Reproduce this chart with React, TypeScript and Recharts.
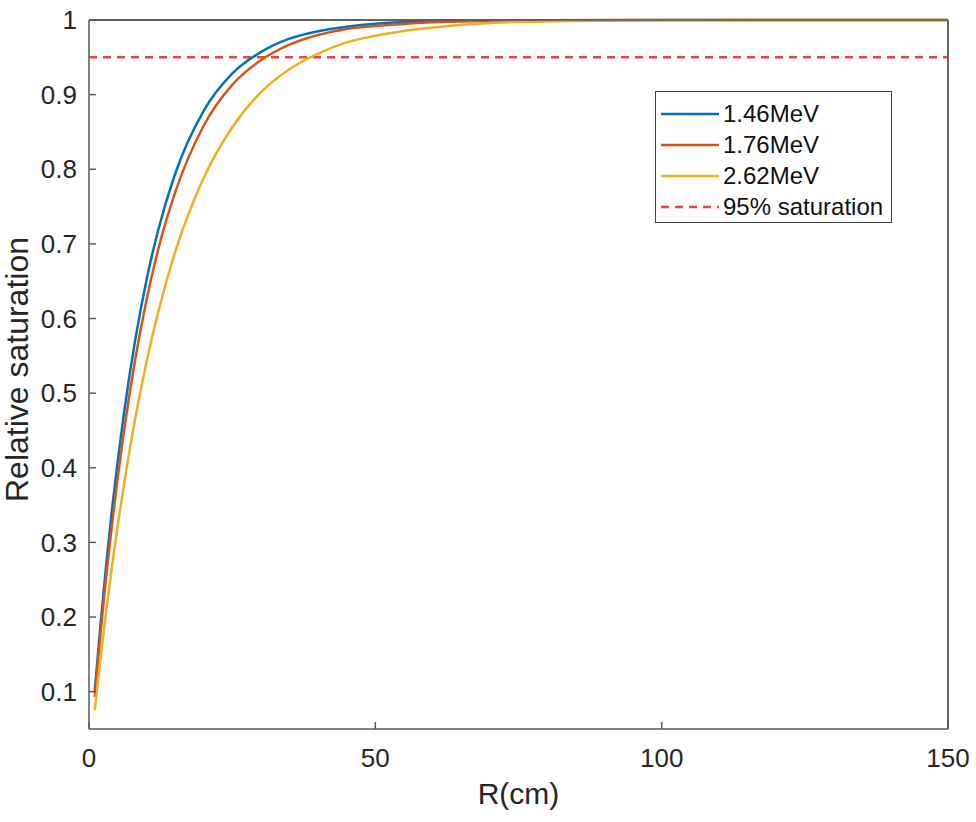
import React from 'react';
import { LineChart, Line, XAxis, YAxis, ReferenceLine, Legend } from 'recharts';

const rValues = [1, 2, 3, 4, 5, 6, 8, 10, 12, 15, 20, 25, 30, 35, 40, 45, 50, 60, 70, 80, 100, 120, 150];
const mev146 = [0.100, 0.189, 0.270, 0.343, 0.408, 0.467, 0.568, 0.650, 0.716, 0.793, 0.878, 0.928, 0.957, 0.975, 0.985, 0.991, 0.995, 0.998, 0.9994, 0.9998, 1.0, 1.0, 1.0];
const mev176 = [0.093, 0.177, 0.254, 0.323, 0.386, 0.443, 0.542, 0.623, 0.690, 0.768, 0.858, 0.913, 0.946, 0.967, 0.980, 0.988, 0.992, 0.997, 0.9989, 0.9996, 1.0, 1.0, 1.0];
const mev262 = [0.075, 0.144, 0.208, 0.267, 0.322, 0.372, 0.463, 0.540, 0.606, 0.688, 0.788, 0.856, 0.903, 0.934, 0.955, 0.970, 0.979, 0.990, 0.996, 0.998, 0.9996, 1.0, 1.0];

const xTicks = [0, 50, 100, 150];
const yTicks = [0.1, 0.2, 0.3, 0.4, 0.5, 0.6, 0.7, 0.8, 0.9, 1];
const saturationLevel = 0.95;

const seriesKeys = ['a', 'b', 'c'];
const seriesNames = ['1.46MeV', '1.76MeV', '2.62MeV'];
const seriesColors = ['#0072BD', '#D95319', '#EDB120'];
const refName = '95% saturation';
const refColor = '#F0404C';

const data = rValues.map((r, i) => ({ r, a: mev146[i], b: mev176[i], c: mev262[i] }));

const FONT = '"Liberation Sans", Arial, Helvetica, sans-serif';
const AXIS = '#595959';
const TEXT = '#262626';

const fmtY = (v: number) => (Math.abs(v - 1) < 1e-9 ? '1' : v.toFixed(1));

const LegendBox = () => (
  <div
    style={{
      width: 237,
      height: 132,
      boxSizing: 'border-box',
      border: '1.5px solid #444',
      background: '#fff',
      paddingTop: 6,
      fontFamily: FONT,
      fontSize: 24,
      color: '#111',
    }}
  >
    {seriesNames.map((n, i) => (
      <div key={n} style={{ height: 31, display: 'flex', alignItems: 'center' }}>
        <svg width={63} height={6} style={{ flex: 'none' }}>
          <line x1={5} x2={63} y1={3} y2={3} stroke={seriesColors[i]} strokeWidth={2.5} />
        </svg>
        <span style={{ marginLeft: 4, lineHeight: '31px', whiteSpace: 'nowrap' }}>{n}</span>
      </div>
    ))}
    <div style={{ height: 31, display: 'flex', alignItems: 'center' }}>
      <svg width={63} height={6} style={{ flex: 'none' }}>
        <line x1={5} x2={63} y1={3} y2={3} stroke={refColor} strokeWidth={2.5} strokeDasharray="8 6" />
      </svg>
      <span style={{ marginLeft: 4, lineHeight: '31px', whiteSpace: 'nowrap' }}>{refName}</span>
    </div>
  </div>
);

const XLabel = (props: any) => {
  const vb = props.viewBox || { x: 0, y: 0, width: 0, height: 0 };
  return (
    <text
      x={vb.x + vb.width / 2}
      y={vb.y + 75}
      textAnchor="middle"
      fontFamily={FONT}
      fontSize={30}
      fill={TEXT}
    >
      R(cm)
    </text>
  );
};

const YLabel = (props: any) => {
  const vb = props.viewBox || { x: 0, y: 0, width: 0, height: 0 };
  const cx = vb.x + 28;
  const cy = vb.y + vb.height / 2 - 5;
  return (
    <text
      x={cx}
      y={cy}
      transform={`rotate(-90 ${cx} ${cy})`}
      textAnchor="middle"
      fontFamily={FONT}
      fontSize={32}
      fill={TEXT}
    >
      Relative saturation
    </text>
  );
};

export default function App() {
  return (
    <div style={{ position: 'absolute', left: 0, top: 0, width: 976, height: 822, background: '#fff' }}>
      <LineChart
        width={976}
        height={822}
        data={data}
        margin={{ top: 19, right: 27, bottom: 13, left: 0 }}
      >
        <XAxis
          dataKey="r"
          type="number"
          domain={[0, 150]}
          ticks={xTicks}
          height={80}
          stroke={AXIS}
          strokeWidth={1.5}
          tickSize={-7}
          tickMargin={27}
          tick={{ fill: TEXT, fontSize: 26, fontFamily: FONT }}
          label={<XLabel />}
        />
        <XAxis
          xAxisId="top"
          orientation="top"
          dataKey="r"
          type="number"
          domain={[0, 150]}
          ticks={xTicks}
          height={1}
          stroke={AXIS}
          strokeWidth={1.5}
          tickSize={-7}
          tick={false}
        />
        <YAxis
          type="number"
          domain={[0.05, 1]}
          ticks={yTicks}
          width={89}
          stroke={AXIS}
          strokeWidth={1.5}
          tickSize={-7}
          tickMargin={19}
          tickFormatter={fmtY}
          tick={{ fill: TEXT, fontSize: 26, fontFamily: FONT }}
          label={<YLabel />}
        />
        <YAxis
          yAxisId="right"
          orientation="right"
          type="number"
          domain={[0.05, 1]}
          ticks={yTicks}
          width={1}
          stroke={AXIS}
          strokeWidth={1.5}
          tickSize={-7}
          tick={false}
        />
        <ReferenceLine y={1} stroke={AXIS} strokeWidth={1.5} />
        <ReferenceLine x={150} stroke={AXIS} strokeWidth={1.5} />
        <ReferenceLine y={saturationLevel} stroke={refColor} strokeWidth={2.5} strokeDasharray="8 6" />
        <Line
          xAxisId="top"
          yAxisId="right"
          dataKey="a"
          stroke="none"
          strokeOpacity={0}
          dot={false}
          activeDot={false}
          legendType="none"
          isAnimationActive={false}
        />
        {seriesKeys.map((k, i) => (
          <Line
            key={k}
            type="monotone"
            dataKey={k}
            name={seriesNames[i]}
            stroke={seriesColors[i]}
            strokeWidth={2.5}
            dot={false}
            activeDot={false}
            isAnimationActive={false}
          />
        ))}
        <Legend
          layout="horizontal"
          verticalAlign="middle"
          align="center"
          wrapperStyle={{ position: 'absolute', left: 655, top: 91, width: 237, height: 132 }}
          content={() => <LegendBox />}
        />
      </LineChart>
    </div>
  );
}
